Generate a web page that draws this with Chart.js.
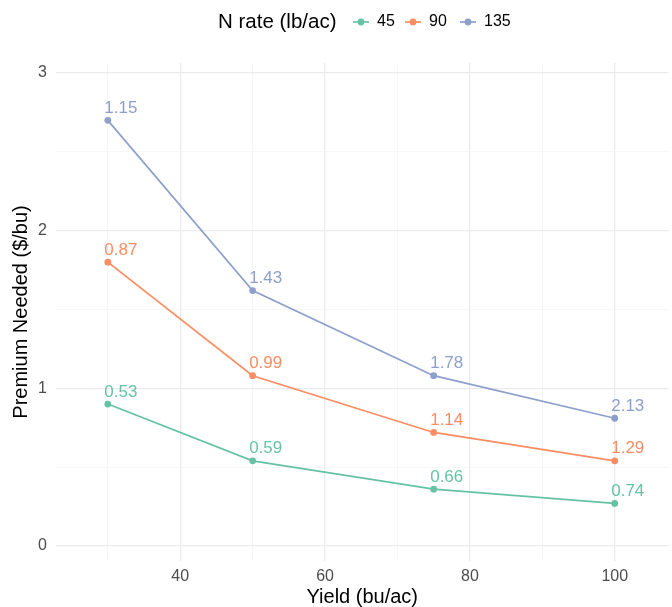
<!DOCTYPE html>
<html>
<head>
<meta charset="utf-8">
<script src="https://cdn.jsdelivr.net/npm/chart.js@4.4.1/dist/chart.umd.min.js"></script>
<style>
html,body{margin:0;padding:0;background:#fff;}
#wrap{width:672px;height:607px;position:relative;}
</style>
</head>
<body>
<div id="wrap"><canvas id="c" width="672" height="607"></canvas></div>
<script>
const yields = [30, 50, 75, 100];
const seriesNames = ['45', '90', '135'];
const premium45 = [0.90, 0.54, 0.36, 0.27];
const premium90 = [1.80, 1.08, 0.72, 0.54];
const premium135 = [2.70, 1.62, 1.08, 0.81];
const labels45 = ['0.53', '0.59', '0.66', '0.74'];
const labels90 = ['0.87', '0.99', '1.14', '1.29'];
const labels135 = ['1.15', '1.43', '1.78', '2.13'];
const colors = ['#66C2A5', '#FC8D62', '#8DA0CB'];
const xTicks = [30, 40, 50, 60, 70, 80, 90, 100];
const yTicks = [0, 0.5, 1, 1.5, 2, 2.5, 3];

const FONT = "'Liberation Sans', Arial, Helvetica, sans-serif";
const allVals = [premium45, premium90, premium135];
const allLabels = [labels45, labels90, labels135];

const datasets = allVals.map((vals, i) => ({
  label: seriesNames[i],
  data: yields.map((x, j) => ({x: x, y: vals[j]})),
  pointLabels: allLabels[i],
  borderColor: colors[i],
  backgroundColor: colors[i],
  borderWidth: 1.7,
  pointRadius: 3.4,
  pointHoverRadius: 3.4,
  pointBorderWidth: 0,
  tension: 0
}));

const labelPlugin = {
  id: 'pointText',
  afterDatasetsDraw(chart) {
    const ctx = chart.ctx;
    ctx.save();
    ctx.font = '17px ' + FONT;
    ctx.textAlign = 'left';
    ctx.textBaseline = 'alphabetic';
    chart.data.datasets.forEach((ds, i) => {
      const meta = chart.getDatasetMeta(i);
      ctx.fillStyle = ds.borderColor;
      meta.data.forEach((pt, j) => {
        ctx.fillText(ds.pointLabels[j], pt.x - 3.5, pt.y - 7.5);
      });
    });
    ctx.restore();
  }
};

const legendPlugin = {
  id: 'ggLegend',
  afterDraw(chart) {
    const ctx = chart.ctx;
    ctx.save();
    const cy = 22;
    ctx.textBaseline = 'middle';
    ctx.textAlign = 'left';
    ctx.fillStyle = '#000';
    ctx.font = '20.5px ' + FONT;
    ctx.fillText('N rate (lb/ac)', 218, cy);
    const keyX = [361, 413, 468];
    seriesNames.forEach((name, i) => {
      const xc = keyX[i];
      ctx.strokeStyle = colors[i];
      ctx.lineWidth = 1.7;
      ctx.beginPath();
      ctx.moveTo(xc - 8, cy);
      ctx.lineTo(xc + 8, cy);
      ctx.stroke();
      ctx.fillStyle = colors[i];
      ctx.beginPath();
      ctx.arc(xc, cy, 3.4, 0, Math.PI * 2);
      ctx.fill();
      ctx.fillStyle = '#000';
      ctx.font = '16px ' + FONT;
      ctx.fillText(name, xc + 16, cy);
    });
    ctx.restore();
  }
};

new Chart(document.getElementById('c'), {
  type: 'line',
  data: { datasets: datasets },
  options: {
    responsive: false,
    animation: false,
    layout: { padding: { top: 63, left: 8, right: 0, bottom: 0 } },
    plugins: { legend: { display: false }, tooltip: { enabled: false } },
    scales: {
      x: {
        type: 'linear',
        min: 22.83,
        max: 107.44,
        afterBuildTicks: (s) => { s.ticks = xTicks.map(v => ({value: v})); },
        grid: {
          drawTicks: false,
          color: (c) => (c.tick && c.tick.value % 20 === 0) ? '#EBEBEB' : '#F4F4F4',
          lineWidth: (c) => (c.tick && c.tick.value % 20 === 0) ? 1.3 : 0.8
        },
        border: { display: false },
        ticks: {
          padding: 8,
          color: '#4D4D4D',
          font: { family: FONT, size: 16, lineHeight: 1 },
          maxRotation: 0,
          autoSkip: false,
          callback: (v) => (v % 20 === 0 ? String(v) : '')
        },
        title: {
          display: true,
          text: 'Yield (bu/ac)',
          color: '#000',
          font: { family: FONT, size: 20, lineHeight: 1 },
          padding: { top: -6, bottom: 0 }
        }
      },
      y: {
        type: 'linear',
        min: -0.0955,
        max: 3.0637,
        afterBuildTicks: (s) => { s.ticks = yTicks.map(v => ({value: v})); },
        grid: {
          drawTicks: false,
          color: (c) => (c.tick && Number.isInteger(c.tick.value)) ? '#EBEBEB' : '#F4F4F4',
          lineWidth: (c) => (c.tick && Number.isInteger(c.tick.value)) ? 1.3 : 0.8
        },
        border: { display: false },
        ticks: {
          padding: 9,
          color: '#4D4D4D',
          font: { family: FONT, size: 16, lineHeight: 1 },
          autoSkip: false,
          callback: (v) => (Number.isInteger(v) ? String(v) : '')
        },
        title: {
          display: true,
          text: 'Premium Needed ($/bu)',
          color: '#000',
          font: { family: FONT, size: 20, lineHeight: 1 },
          padding: { top: 3, bottom: -2 }
        }
      }
    }
  },
  plugins: [labelPlugin, legendPlugin]
});
</script>
</body>
</html>
